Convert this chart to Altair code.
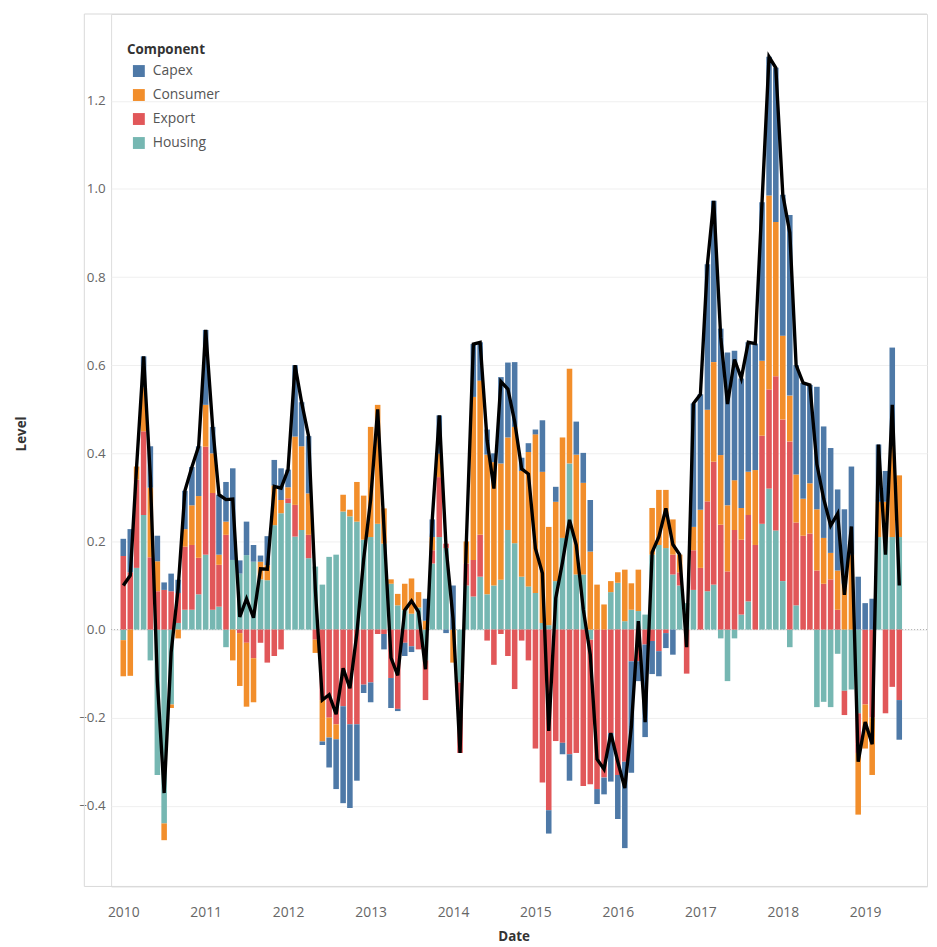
import altair as alt
import pandas as pd

# Monthly stacked components, Jan 2010 .. Jun 2019 (114 months)
housing = [-0.024, 0.0, 0.14, 0.26, -0.07, -0.33, -0.44, -0.17, 0.015, 0.045, 0.045, 0.08,
           0.17, 0.045, 0.052, -0.04, 0.158, 0.127, 0.169, 0.154, 0.114, 0.112, 0.237, 0.264,
           0.287, 0.211, 0.226, 0.162, 0.143, 0.102, 0.165, 0.17, 0.268, 0.257, 0.245, 0.204,
           0.21, 0.24, 0.195, 0.104, 0.055, 0.044, 0.036, 0.05, -0.07, 0.15, 0.21, 0.185,
           0.0, -0.12, 0.1, 0.075, 0.12, 0.08, 0.1, 0.113, 0.226, 0.196, 0.12, 0.098,
           0.083, 0.015, 0.01, 0.11, 0.208, 0.377, 0.125, 0.125, -0.023, 0.0, 0.0, 0.085,
           0.106, 0.019, 0.045, 0.042, 0.034, 0.17, 0.192, 0.185, 0.125, 0.1, 0.06, 0.09,
           0.0, 0.087, 0.102, -0.02, -0.117, -0.02, 0.034, 0.064, 0.0, 0.24, 0.32, 0.225,
           0.11, -0.04, 0.055, 0.0, 0.0, -0.176, -0.164, -0.176, -0.055, -0.139, -0.136, -0.19,
           0.0, 0.0, 0.21, 0.21, 0.21, 0.21]
export = [0.167, 0.13, 0.2, 0.19, 0.164, 0.087, 0.09, 0.087, 0.068, 0.143, 0.147, 0.083,
          0.245, 0.265, 0.095, 0.215, 0.0, -0.008, -0.03, -0.065, -0.03, -0.075, -0.06, -0.045,
          0.011, 0.072, 0.0, 0.053, -0.023, -0.16, -0.2, -0.215, -0.174, -0.215, -0.215, -0.125,
          -0.12, -0.01, -0.01, -0.11, -0.18, -0.03, -0.038, -0.045, -0.09, 0.03, 0.136, 0.01,
          0.0, -0.16, 0.05, 0.083, 0.095, -0.025, -0.08, -0.01, -0.06, -0.135, -0.025, -0.07,
          -0.27, -0.347, -0.41, -0.253, -0.257, -0.283, -0.28, -0.355, -0.328, -0.362, -0.336, -0.235,
          -0.33, -0.3, -0.072, -0.072, -0.034, -0.026, -0.049, -0.008, 0.045, 0.03, -0.1, 0.09,
          0.14, 0.204, 0.279, 0.238, 0.132, 0.226, 0.17, 0.196, 0.192, 0.2, 0.225, 0.35,
          0.367, 0.427, 0.188, 0.213, 0.218, 0.134, 0.104, 0.114, 0.045, -0.055, 0.0, -0.09,
          -0.17, -0.2, 0.0, -0.19, -0.13, -0.16]
consumer = [-0.082, -0.105, 0.03, 0.10, 0.158, 0.068, -0.038, -0.008, -0.02, 0.04, 0.09, 0.14,
            0.095, 0.09, 0.023, 0.03, -0.07, -0.12, -0.145, -0.1, 0.04, 0.034, 0.09, 0.03,
            0.025, 0.155, 0.19, 0.094, -0.03, -0.094, -0.045, -0.034, 0.038, 0.015, 0.09, 0.1,
            0.25, 0.27, 0.08, 0.01, 0.026, 0.06, 0.08, 0.035, 0.02, 0.03, 0.053, 0.0,
            -0.075, 0.0, 0.05, 0.37, 0.35, 0.317, 0.28, 0.264, 0.21, 0.264, 0.24, 0.305,
            0.36, 0.343, 0.223, 0.18, 0.228, 0.215, 0.272, 0.208, 0.177, 0.102, 0.057, 0.025,
            0.024, 0.117, 0.06, 0.094, 0.0, 0.106, 0.125, 0.132, 0.08, 0.04, 0.0, 0.053,
            0.132, 0.208, 0.226, 0.158, 0.15, 0.113, 0.072, 0.098, 0.17, 0.17, 0.44, 0.35,
            0.19, 0.104, 0.109, 0.084, 0.114, 0.139, 0.104, 0.06, 0.089, 0.104, 0.17, -0.14,
            -0.1, -0.13, 0.08, 0.08, 0.21, 0.14]
capex = [0.039, 0.098, 0.0, 0.07, 0.094, 0.058, 0.017, 0.04, 0.03, 0.087, 0.087, 0.113,
         0.17, 0.06, 0.136, 0.09, 0.208, 0.03, 0.076, 0.038, 0.014, 0.066, 0.058, 0.072,
         0.04, 0.162, 0.1, 0.13, 0.0, -0.008, -0.068, -0.113, -0.22, -0.19, -0.128, -0.019,
         -0.045, 0.0, -0.035, -0.068, -0.005, -0.03, -0.013, 0.0, 0.05, 0.04, 0.087, -0.008,
         0.1, 0.0, 0.0, 0.12, 0.087, 0.057, 0.02, 0.196, 0.17, 0.147, 0.03, 0.02,
         0.011, 0.117, -0.053, 0.034, -0.026, -0.06, 0.075, 0.068, 0.117, -0.034, -0.038, -0.11,
         -0.1, -0.196, -0.253, -0.045, -0.21, -0.075, -0.057, -0.034, -0.057, 0.0, 0.0, 0.28,
         0.262, 0.33, 0.366, 0.287, 0.347, 0.294, 0.294, 0.294, 0.287, 0.36, 0.315, 0.35,
         0.32, 0.41, 0.248, 0.263, 0.223, 0.278, 0.253, 0.238, 0.184, 0.169, 0.2, 0.12,
         0.06, 0.07, 0.13, 0.07, 0.22, -0.09]

components = ["Capex", "Consumer", "Export", "Housing"]
colors = ["#4e79a7", "#f28e2b", "#e15759", "#76b7b2"]
year_ticks = list(range(2010, 2020))
y_ticks = [-0.4, -0.2, 0.0, 0.2, 0.4, 0.6, 0.8, 1.0, 1.2]

months = pd.date_range("2010-01-01", periods=len(housing), freq="MS")
series = {"Housing": (housing, 0), "Export": (export, 1), "Consumer": (consumer, 2), "Capex": (capex, 3)}

rows = []
for i, m in enumerate(months):
    for name, (vals, o) in series.items():
        rows.append({"date": m.strftime("%Y-%m-%d"), "Component": name, "value": vals[i], "ord": o})
bars_df = pd.DataFrame(rows)
tot_df = pd.DataFrame({
    "date": [m.strftime("%Y-%m-%d") for m in months],
    "total": [round(housing[i] + export[i] + consumer[i] + capex[i], 4) for i in range(len(months))],
})


def ms(s):
    return int(pd.Timestamp(s, tz="UTC").value // 10**6)


x_domain = [ms("2009-11-30"), ms("2019-09-10")]
x_vals = [ms(f"{y}-01-01") for y in year_ticks]

W, H = 823, 880
FONT = "Open Sans"

x_enc = alt.X(
    "date:T",
    scale=alt.Scale(type="utc", domain=x_domain, nice=False),
    axis=alt.Axis(values=x_vals, format="%Y", title="Date", grid=False, domain=False, ticks=False,
                  labelPadding=19, labelFontSize=14, labelColor="#666", labelFont=FONT,
                  titleFont=FONT, titleFontSize=13.5, titleFontWeight="bold", titleColor="#333",
                  titleX=406, titleY=51, titleBaseline="middle", titleAlign="center"),
)
y_scale = alt.Scale(domain=[-0.583, 1.397], nice=False, zero=False)

bars = alt.Chart(bars_df).mark_bar(size=5.6).encode(
    x=x_enc,
    y=alt.Y("value:Q", stack="zero", scale=y_scale,
            axis=alt.Axis(values=y_ticks, format=".1f", title="Level", domain=False, ticks=False,
                          labelPadding=6, labelFontSize=13.5, labelColor="#666", labelFont=FONT,
                          gridColor="#efefef", gridWidth=1,
                          titleFont=FONT, titleFontSize=13.5, titleFontWeight="bold", titleColor="#333",
                          titleX=-90, titleY=423, titleAngle=-90, titleAlign="center",
                          titleBaseline="middle")),
    color=alt.Color("Component:N", scale=alt.Scale(domain=components, range=colors),
                    legend=alt.Legend(orient="none", legendX=16, legendY=29, title="Component",
                                      symbolType="square", symbolSize=144, symbolStrokeWidth=0,
                                      symbolOffset=5, labelOffset=7,
                                      labelFontSize=14, labelColor="#555", labelFont=FONT,
                                      titleFontSize=13.5, titleColor="#333", titleFont=FONT,
                                      titleFontWeight="bold", rowPadding=10.2, titlePadding=8)),
    order=alt.Order("ord:Q", sort="ascending"),
)

line = alt.Chart(tot_df).mark_line(color="black", strokeWidth=3.4).encode(
    x="date:T",
    y=alt.Y("total:Q", scale=y_scale),
)

zero_rule = alt.Chart(pd.DataFrame({"v": [0.0]})).mark_rule(
    color="#aaa", strokeDash=[1, 2], strokeWidth=1
).encode(y=alt.Y("v:Q", scale=y_scale))

one = pd.DataFrame({"a": [0]})
top_rule = alt.Chart(one).mark_rule(color="#d9d9d9", strokeWidth=1).encode(
    x=alt.value(-27), x2=alt.value(W), y=alt.value(0))
left_rule = alt.Chart(one).mark_rule(color="#d9d9d9", strokeWidth=1).encode(
    x=alt.value(-27), y=alt.value(0), y2=alt.value(H))
bottom_rule = alt.Chart(one).mark_rule(color="#d9d9d9", strokeWidth=1).encode(
    x=alt.value(-27), x2=alt.value(W), y=alt.value(H))

chart = alt.layer(top_rule, left_rule, bottom_rule, zero_rule, bars, line).properties(
    width=W, height=H,
    padding={"left": 104, "top": 2, "right": 2, "bottom": 57},
    autosize=alt.AutoSizeParams(type="none"),
).configure_view(stroke=None).configure(font=FONT)

chart.save("out.html", embed_options={"renderer": "svg", "actions": False})
